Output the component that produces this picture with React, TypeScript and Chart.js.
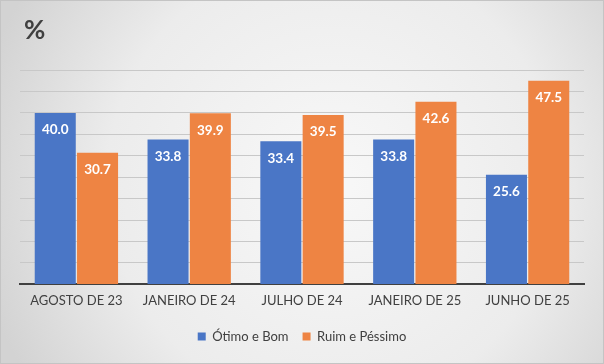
import React, { useEffect, useRef } from "react";
import { Chart, registerables } from "chart.js";

Chart.register(...registerables);

const categories = ["AGOSTO DE 23", "JANEIRO DE 24", "JULHO DE 24", "JANEIRO DE 25", "JUNHO DE 25"];
const otimoBom = [40.0, 33.8, 33.4, 33.8, 25.6];
const ruimPessimo = [30.7, 39.9, 39.5, 42.6, 47.5];
const seriesNames = ["Ótimo e Bom", "Ruim e Péssimo"];
const titleText = "%";

const FONT = "Lato, 'Open Sans', sans-serif";

const bgPlugin = {
  id: "bgPlugin",
  beforeDraw(chart: any) {
    const { ctx, width, height } = chart;
    ctx.save();
    const g = ctx.createRadialGradient(width * 0.55, height * 0.5, 20, width * 0.55, height * 0.5, width * 0.6);
    g.addColorStop(0, "#f7f7f7");
    g.addColorStop(0.6, "#ececec");
    g.addColorStop(1, "#d3d3d3");
    ctx.fillStyle = g;
    ctx.fillRect(0, 0, width, height);
    ctx.strokeStyle = "#c4c4c4";
    ctx.lineWidth = 1;
    ctx.strokeRect(0.5, 0.5, width - 1, height - 1);
    ctx.fillStyle = "#404040";
    ctx.font = "bold 26px " + FONT;
    ctx.textBaseline = "middle";
    ctx.textAlign = "left";
    ctx.fillText(titleText, 24, 31);
    ctx.restore();
  },
};

const labelPlugin = {
  id: "labelPlugin",
  afterDatasetsDraw(chart: any) {
    const { ctx } = chart;
    ctx.save();
    ctx.fillStyle = "#ffffff";
    ctx.font = "bold 13.5px " + FONT;
    ctx.textAlign = "center";
    ctx.textBaseline = "middle";
    chart.data.datasets.forEach((ds: any, i: number) => {
      const meta = chart.getDatasetMeta(i);
      meta.data.forEach((bar: any, j: number) => {
        ctx.fillText(Number(ds.data[j]).toFixed(1), bar.x, bar.y + 17);
      });
    });
    ctx.restore();
  },
};

export default function App() {
  const ref = useRef<HTMLCanvasElement>(null);
  useEffect(() => {
    const chart = new Chart(ref.current!, {
      type: "bar",
      data: {
        labels: categories,
        datasets: [
          { label: seriesNames[0], data: otimoBom, backgroundColor: "#4a76c6", barPercentage: 0.97, categoryPercentage: 0.75 },
          { label: seriesNames[1], data: ruimPessimo, backgroundColor: "#ee8443", barPercentage: 0.97, categoryPercentage: 0.75 },
        ],
      },
      options: {
        responsive: false,
        animation: false,
        layout: { padding: { top: 70, left: 20, right: 20, bottom: 11 } },
        plugins: {
          legend: {
            position: "bottom",
            labels: {
              boxWidth: 8,
              boxHeight: 8,
              color: "#404040",
              font: { family: FONT, size: 13 },
              padding: 14,
            },
          },
          title: { display: false },
          tooltip: { enabled: false },
        },
        scales: {
          x: {
            grid: { display: false },
            border: { display: true, color: "#404040", width: 2 },
            ticks: { color: "#404040", font: { family: FONT, size: 13 }, padding: 1 },
            afterFit(scale: any) {
              scale.height = scale.height + 6;
            },
          },
          y: {
            min: 0,
            max: 50,
            ticks: { stepSize: 5, display: false },
            grid: { color: "#c8c8c8", lineWidth: 1, drawTicks: false },
            border: { display: false },
          },
        },
      },
      plugins: [bgPlugin, labelPlugin],
    });
    return () => chart.destroy();
  }, []);
  return (
    <div style={{ position: "fixed", left: 0, top: 0, width: 604, height: 364 }}>
      <canvas ref={ref} width={604} height={364} />
    </div>
  );
}
